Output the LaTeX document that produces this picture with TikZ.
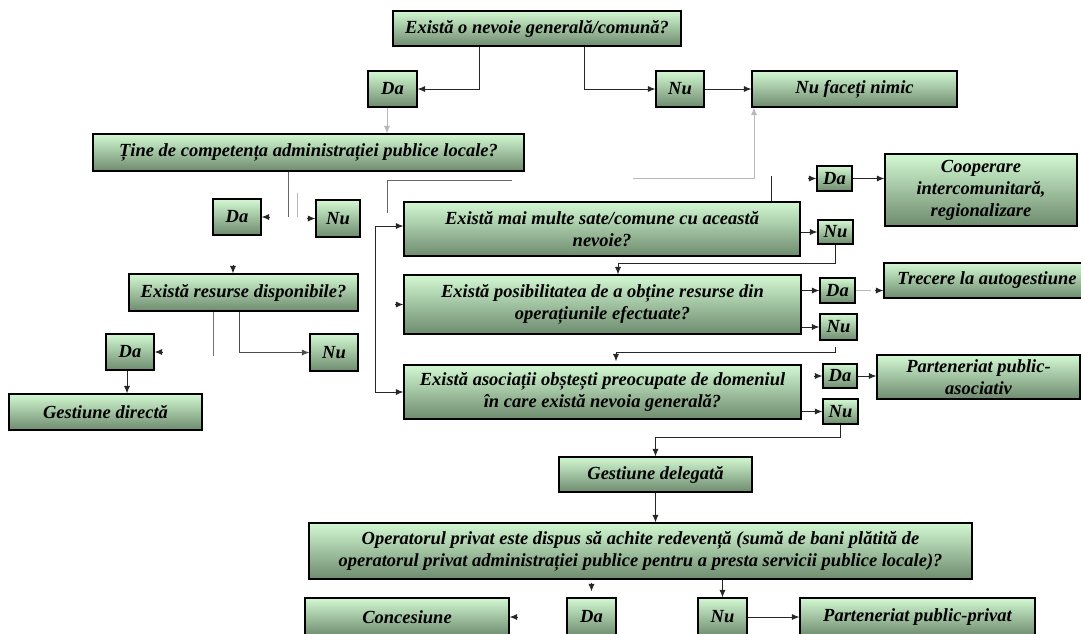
\documentclass[tikz,border=0pt]{standalone}
\usepackage{fontspec}
\setmainfont{Liberation Serif}
\usepackage{tikz}
\usetikzlibrary{positioning, arrows, arrows.meta, calc}
\definecolor{boxtop}{HTML}{D2F8D2}
\definecolor{boxbot}{HTML}{6E8B6E}
\definecolor{faint}{HTML}{B8B8B8}
\tikzset{
	box/.style={draw=black, line width=1.1pt, top color=boxtop, bottom color=boxbot, align=center, inner sep=1pt, font=\bfseries\itshape\fontsize{18.5}{22}\selectfont},
	ln/.style={line width=0.9pt, draw=black!85},
	arr/.style={ln, -{Latex[length=7.5pt,width=6pt]}},
	arrs/.style={ln, {Latex[length=7.5pt,width=6pt]}-{Latex[length=7.5pt,width=6pt]}},
	pale/.style={line width=0.9pt, draw=faint}
}

\begin{document}
\begin{tikzpicture}[x=1pt, y=1pt]
						\fill[white] (0,0) rectangle (1081,-633);
						\useasboundingbox (0,0) rectangle (1081,-633);
						\node[box, minimum width=288pt, minimum height=35pt] (q1) at (537,-28.5) {Există o nevoie generală/comună?};
						\node[box, minimum width=49pt, minimum height=36pt] (da1) at (392.5,-89) {Da};
						\node[box, minimum width=48pt, minimum height=36pt] (nu1) at (680,-89) {Nu};
						\node[box, minimum width=205pt, minimum height=36pt] (nimic) at (854.5,-89) {Nu faceți nimic};
						\node[box, minimum width=431pt, minimum height=37pt] (tine) at (308.5,-152.5) {Ține de competența administrației publice locale?};
						\node[box, minimum width=48pt, minimum height=36pt] (da2) at (237,-217) {Da};
						\node[box, minimum width=44pt, minimum height=37pt] (nu2) at (338,-218.5) {Nu};
						\node[box, minimum width=396pt, minimum height=54pt] (mai) at (602,-229) {Există mai multe sate/comune cu această\\nevoie?};
						\node[box, minimum width=35pt, minimum height=25pt] (da3) at (834.5,-178.5) {Da};
						\node[box, minimum width=192pt, minimum height=72pt] (coop) at (981,-190) {Cooperare\\intercomunitară,\\regionalizare};
						\node[box, minimum width=35pt, minimum height=24pt] (nu3) at (835.5,-232) {Nu};
						\node[box, minimum width=397pt, minimum height=59pt] (posib) at (602.5,-304.5) {Există posibilitatea de a obține resurse din\\operațiunile efectuate?};
						\node[box, minimum width=35pt, minimum height=25pt] (da4) at (837.5,-290.5) {Da};
						\node[box, minimum width=37pt, minimum height=26pt] (nu4) at (838.5,-327) {Nu};
						\node[box, minimum width=206pt, minimum height=35pt] (trecere) at (987,-280.5) {Trecere la autogestiune};
						\node[box, minimum width=229pt, minimum height=37pt] (resurse) at (243.5,-292.5) {Există resurse disponibile?};
						\node[box, minimum width=48pt, minimum height=36pt] (da5) at (130,-352) {Da};
						\node[box, minimum width=48pt, minimum height=37pt] (nu5) at (334,-352.5) {Nu};
						\node[box, minimum width=193pt, minimum height=36pt] (directa) at (105.5,-412) {Gestiune directă};
						\node[box, minimum width=397pt, minimum height=54pt] (asoc) at (602.5,-392) {Există asociații obștești preocupate de domeniul\\în care există nevoia generală?};
						\node[box, minimum width=34pt, minimum height=24pt] (da6) at (840,-376) {Da};
						\node[box, minimum width=35pt, minimum height=25pt] (nu6) at (840.5,-411.5) {Nu};
						\node[box, minimum width=203pt, minimum height=44pt] (pasoc) at (978.5,-377) {Parteneriat public-\\asociativ};
						\node[box, minimum width=193pt, minimum height=35pt] (delegata) at (655.5,-474.5) {Gestiune delegată};
						\node[box, minimum width=663pt, minimum height=56pt] (oper) at (640.5,-551) {Operatorul privat este dispus să achite redevență (sumă de bani plătită de\\operatorul privat administrației publice pentru a presta servicii publice locale)?};
						\node[box, minimum width=204pt, minimum height=38pt] (conc) at (407,-617) {Concesiune};
						\node[box, minimum width=49pt, minimum height=38pt] (da7) at (591.5,-617) {Da};
						\node[box, minimum width=49pt, minimum height=38pt] (nu7) at (722.5,-617) {Nu};
						\node[box, minimum width=235pt, minimum height=38pt] (ppriv) at (917.5,-617) {Parteneriat public-privat};
						\coordinate (g1) at (387,-213);
						\coordinate (g2) at (512,-180);
						\coordinate (g3) at (633,-178);
						\draw[arr] ([xshift=-58pt]q1.south) |- (da1.east);
						\draw[arr] ([xshift=47pt]q1.south) |- (nu1.west);
						\draw[arr] (nu1) -- (nimic);
						\draw[pale, -{Latex[length=7.5pt,width=6pt]}] ([xshift=-5.5pt]da1.south) -- ([xshift=-5.5pt]da1.south |- tine.north);
						\draw[ln, draw=black!60] ([xshift=-20.5pt]tine.south) -- ++(0,-45);
						\draw[pale] ([xshift=-11.5pt,yshift=-21pt]tine.south) -- ++(0,-24);
						\draw[arr] ([xshift=8pt]da2.east) -- (da2.east);
						\draw[arr] ([xshift=-8pt]nu2.west) -- (nu2.west);
						\draw[ln, draw=black!60] (g1) |- (g2);
						\draw[pale, -{Latex[length=7.5pt,width=6pt]}] (g3) -| ([xshift=-100.5pt]nimic.south);
						\draw[ln] ([xshift=169pt]mai.north) -- ++(0,25);
						\draw[arr] ([xshift=-8pt]da3.west) -- (da3.west);
						\draw[arr] (da3.east) -- (da3.east -| coop.west);
						\draw[arr] (nu3.west -| mai.east) -- (nu3.west);
						\draw[arr] (nu3.south) -- ++(0,-19) -| ([xshift=15.5pt]posib.north);
						\draw[arr] (da4.west -| posib.east) -- (da4.west);
						\draw[arr] (nu4.west -| posib.east) -- (nu4.west);
						\draw[pale] (da4.east) -- ++(15,0);
						\draw[arr] ([xshift=-8pt]trecere.west |- da4) -- (trecere.west |- da4);
						\draw[ln] ([xshift=-3.5pt,yshift=-6pt]nu4.south) |- ([xshift=13.5pt,yshift=12pt]asoc.north);
						\draw[arr] ([xshift=13.5pt,yshift=11pt]asoc.north) -- ([xshift=13.5pt,yshift=3pt]asoc.north);
						\draw[arrs] ([yshift=3pt]mai.west) -| ([xshift=-28pt]asoc.west) -- (asoc.west);
						\draw[arr] ([xshift=-8pt]posib.west) -- (posib.west);
						\draw[arr] ([xshift=-8pt]da6.west) -- (da6.west);
						\draw[arr] (nu6.west -| asoc.east) -- (nu6.west);
						\draw[arr] (da6.east) -- (da6.east -| pasoc.west);
						\draw[arr] (nu6.south) -- ++(0,-13) -| (delegata.north);
						\draw[arr] (delegata.south) -- (delegata.south |- oper.north);
						\draw[arr] (nu7.north |- oper.south) -- (nu7.north);
						\draw[arr] ([yshift=14pt]da7.north) -- ([yshift=6pt]da7.north);
						\draw[arr] (nu7.east) -- (ppriv.west);
						\draw[arr] ([xshift=8pt]conc.east) -- (conc.east);
						\draw[arr] ([xshift=-10.5pt,yshift=8pt]resurse.north) -- ([xshift=-10.5pt]resurse.north);
						\draw[ln, draw=black!55] ([xshift=-30.5pt]resurse.south) -- ++(0,-44);
						\draw[arr] ([xshift=8pt]da5.east) -- (da5.east);
						\draw[arr, draw=black!70] ([xshift=-4.5pt]resurse.south) |- (nu5.west);
						\draw[arr] ([xshift=-3pt]da5.south) -- ([xshift=-3pt]da5.south |- directa.north);
					\end{tikzpicture}
\end{document}
